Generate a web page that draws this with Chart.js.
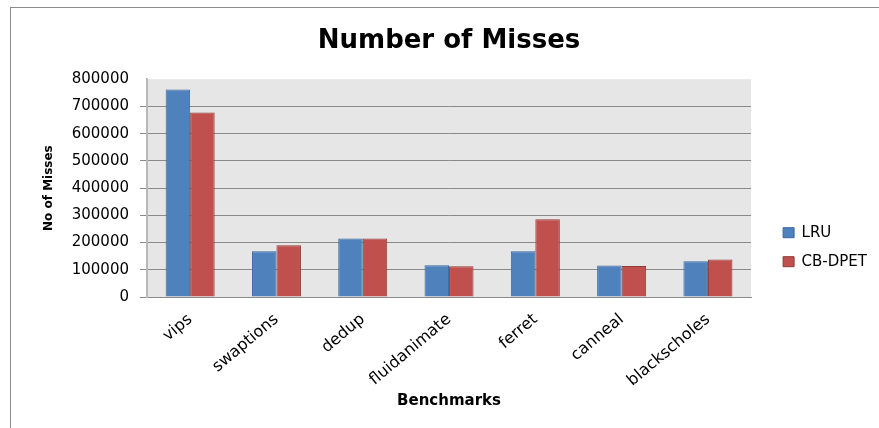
<!DOCTYPE html>
<html><head><meta charset="utf-8">
<script src="https://cdn.jsdelivr.net/npm/chart.js@4"></script>
<style>
html,body{margin:0;padding:0;background:#fff;}
#wrap{position:relative;width:879px;height:428px;overflow:hidden;}
#frame{position:absolute;left:10px;top:7px;width:900px;height:500px;border-left:1px solid #8c8c8c;border-top:1px solid #8c8c8c;pointer-events:none;}
canvas{position:absolute;left:0;top:0;}
</style></head><body>
<div id="wrap"><canvas id="c" width="879" height="428"></canvas><div id="frame"></div></div>
<script>
const categories = ['vips', 'swaptions', 'dedup', 'fluidanimate', 'ferret', 'canneal', 'blackscholes'];
const seriesNames = ['LRU', 'CB-DPET'];
const lruValues = [762000, 168000, 215000, 117000, 168000, 116000, 131000];
const cbdpetValues = [678000, 190000, 215000, 113000, 286000, 114000, 138000];
const yTickValues = [0, 100000, 200000, 300000, 400000, 500000, 600000, 700000, 800000];

const FONT = 'DejaVu Sans';
const GAP = 18;

const plotBg = {
  id: 'plotBg',
  beforeDraw(chart) {
    const {ctx, chartArea: a} = chart;
    ctx.save();
    ctx.fillStyle = '#e6e6e6';
    ctx.fillRect(a.left, a.top, a.right - a.left, a.bottom - a.top);
    ctx.restore();
  }
};

new Chart(document.getElementById('c'), {
  type: 'bar',
  data: {
    labels: categories,
    datasets: [
      { label: seriesNames[0], data: lruValues, backgroundColor: '#4f81bd', borderColor: '#3a679e', borderWidth: 1, categoryPercentage: 0.568, barPercentage: 1 },
      { label: seriesNames[1], data: cbdpetValues, backgroundColor: '#c0504d', borderColor: '#8f3a38', borderWidth: 1, categoryPercentage: 0.568, barPercentage: 1 }
    ]
  },
  options: {
    responsive: false,
    animation: false,
    devicePixelRatio: 1,
    layout: { padding: { top: 8, left: 12, right: 2, bottom: 0 } },
    plugins: {
      title: {
        display: true, text: 'Number of Misses', fullSize: false, color: '#000',
        font: { family: FONT, size: 26, weight: 'bold' },
        padding: { top: 18, bottom: 22 }
      },
      legend: {
        position: 'right',
        title: { display: true, text: ' ', font: { family: FONT, size: 12 }, padding: { top: 44, bottom: 0 } },
        labels: { font: { family: FONT, size: 15 }, color: '#000', boxWidth: 11, boxHeight: 10, padding: 14 }
      },
      tooltip: { enabled: false }
    },
    scales: {
      x: {
        grid: { display: false },
        border: { color: '#8a8a8a', width: 1 },
        ticks: { font: { family: FONT, size: 16 }, color: '#000', minRotation: 40, maxRotation: 40, padding: 5 },
        title: { display: true, text: 'Benchmarks', color: '#000', font: { family: FONT, size: 15, weight: 'bold' }, padding: { top: 0, bottom: 18 } },
        afterFit(s) { s.height = 131; }
      },
      y: {
        min: 0, max: 800000,
        afterBuildTicks(s) { s.ticks = yTickValues.map(v => ({ value: v })); },
        ticks: { font: { family: FONT, size: 15 }, color: '#000', padding: 11, callback: v => String(v) },
        grid: { color: c => (c.tick && c.tick.value === 800000) ? 'rgba(0,0,0,0)' : '#8a8a8a', lineWidth: 1, tickLength: 7 },
        border: { color: '#b8b8b8', width: 2 },
        title: { display: true, text: 'No of Misses', color: '#000', font: { family: FONT, size: 12, weight: 'bold' }, padding: { top: 30, bottom: 0 } },
        afterFit(s) { s.width = 135; }
      },
      spacer: {
        type: 'linear', position: 'right', display: true,
        grid: { display: false }, border: { display: false }, ticks: { display: false },
        afterFit(s) { s.width = GAP; }
      }
    }
  },
  plugins: [plotBg]
});
</script>
</body></html>
